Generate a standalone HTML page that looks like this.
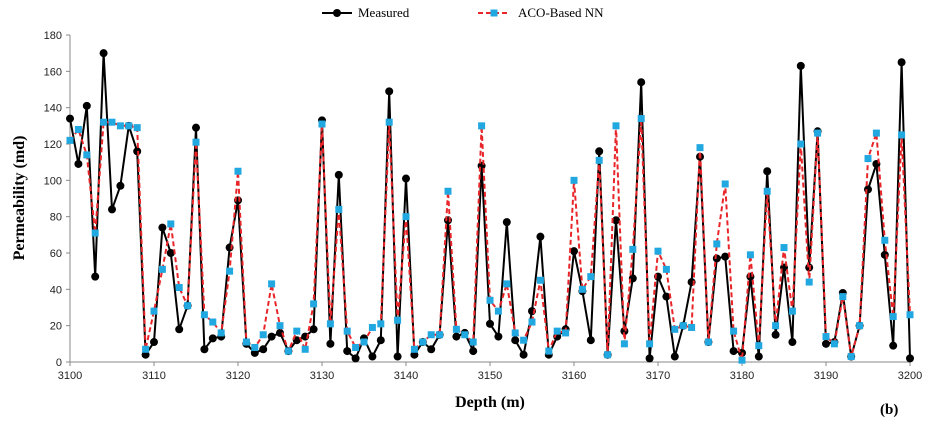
<!DOCTYPE html>
<html><head><meta charset="utf-8"><style>
body{margin:0;background:#fff;}
svg{display:block;font-family:"Liberation Serif",serif;}
</style></head><body>
<svg id="chart" width="928" height="426" viewBox="0 0 928 426"></svg>
<script>
const depths = [];
for (let d = 3100; d <= 3200; d++) depths.push(d);
const measured = [134,109,141,47,170,84,97,130,116,4,11,74,60,18,31,129,7,13,14,63,89,10,5,7,14,16,6,12,14,18,133,10,103,6,2,13,3,12,149,3,101,4,11,7,15,78,14,16,6,108,21,14,77,12,4,28,69,4,14,18,61,39,12,116,4,78,17,46,154,2,47,36,3,20,44,113,11,57,58,6,5,47,3,105,15,52,11,163,52,127,10,11,38,3,20,95,109,59,9,165,2];
const acoNN = [122,128,114,71,132,132,130,130,129,7,28,51,76,41,31,121,26,22,16,50,105,11,8,15,43,20,6,17,7,32,131,21,84,17,8,11,19,21,132,23,80,7,11,15,15,94,18,15,11,130,34,28,43,16,12,22,45,6,17,16,100,40,47,111,4,130,10,62,134,10,61,51,18,20,19,118,11,65,98,17,1,59,9,94,20,63,28,120,44,126,14,10,36,3,20,112,126,67,25,125,26];
const yTicks = [0,20,40,60,80,100,120,140,160,180];
const xTicks = [3100,3110,3120,3130,3140,3150,3160,3170,3180,3190,3200];

const svg = document.getElementById('chart');
const NS = 'http://www.w3.org/2000/svg';
const X0 = 70, X1 = 910, Y0 = 362, Y1 = 35;
const xs = d => X0 + (d - 3100) / 100 * (X1 - X0);
const ys = v => Y0 - v / 180 * (Y0 - Y1);
function mk(tag, attrs, parent) {
  const e = document.createElementNS(NS, tag);
  for (const k in attrs) e.setAttribute(k, attrs[k]);
  (parent || svg).appendChild(e);
  return e;
}
const axes = mk('g', {});


mk('line', {x1:X0, y1:Y1, x2:X0, y2:Y0, stroke:'#888', 'stroke-width':1}, axes);
mk('line', {x1:X0, y1:Y0, x2:X1, y2:Y0, stroke:'#888', 'stroke-width':1}, axes);
yTicks.forEach(t => {
  mk('line', {x1:X0-4, y1:ys(t), x2:X0, y2:ys(t), stroke:'#888'}, axes);
  const tx = mk('text', {x:X0-8, y:ys(t)+4, 'text-anchor':'end', 'font-size':11, fill:'#222', 'font-family':'Liberation Sans, sans-serif'}, axes);
  
  
  tx.textContent = t;
});
xTicks.forEach(t => {
  mk('line', {x1:xs(t), y1:Y0, x2:xs(t), y2:Y0+4, stroke:'#888'}, axes);
  const tx = mk('text', {x:xs(t), y:Y0+17, 'text-anchor':'middle', 'font-size':11, fill:'#222', 'font-family':'Liberation Sans, sans-serif'}, axes);
  
  
  tx.textContent = t;
});
function path(vals) { return vals.map((v,i) => (i?'L':'M') + xs(depths[i]).toFixed(1) + ' ' + ys(v).toFixed(1)).join(' '); }
const mLine = mk('path', {d:path(measured), fill:'none', stroke:'#000', 'stroke-width':2});


measured.forEach((v,i) => {
  const c = mk('circle', {cx:xs(depths[i]), cy:ys(v), r:4, fill:'#000'});
  
  
});
const aLine = mk('path', {d:path(acoNN), fill:'none', stroke:'#e8262a', 'stroke-width':2, 'stroke-dasharray':'5,3'});


acoNN.forEach((v,i) => {
  const r = mk('rect', {x:xs(depths[i])-3.5, y:ys(v)-3.5, width:7, height:7, fill:'#22a8e0'});
  
  
});
</script>
<svg style="position:absolute;left:0;top:0" width="928" height="426">
  <g font-family="Liberation Serif, serif" font-size="13">
    <line x1="322" y1="13" x2="352" y2="13" stroke="#000" stroke-width="2"/>
    <circle cx="337" cy="13" r="4" fill="#000"/>
    <text x="358" y="17">Measured</text>
    <line x1="478" y1="13" x2="510" y2="13" stroke="#e8262a" stroke-width="2" stroke-dasharray="5,3"/>
    <rect x="490.5" y="9.5" width="7" height="7" fill="#22a8e0"/>
    <text x="518" y="17">ACO-Based NN</text>
  </g>
  <text transform="translate(24,198) rotate(-90)" text-anchor="middle" font-family="Liberation Serif, serif" font-size="16" font-weight="bold">Permeability (md)</text>
  <text x="490" y="407" text-anchor="middle" font-family="Liberation Serif, serif" font-size="16" font-weight="bold">Depth (m)</text>
  <text x="880" y="414" font-family="Liberation Serif, serif" font-size="15" font-weight="bold">(b)</text>
</svg>
</body></html>
